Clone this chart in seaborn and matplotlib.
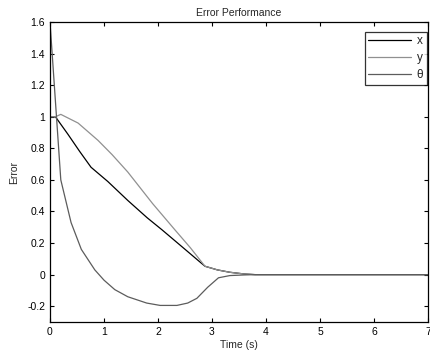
import numpy as np
import pandas as pd
import matplotlib
matplotlib.use("Agg")
import matplotlib.pyplot as plt
import seaborn as sns

t_x = [0.0, 0.1, 0.33, 0.55, 0.76, 1.07, 1.44, 1.8, 2.07, 2.45, 2.87, 3.1, 3.33, 3.6, 3.8, 5.0, 6.0, 7.0]
e_x = [1.0, 1.0, 0.89, 0.78, 0.68, 0.59, 0.47, 0.36, 0.285, 0.175, 0.053, 0.03, 0.015, 0.004, 0.0, 0.0, 0.0, 0.0]

t_y = [0.0, 0.1, 0.2, 0.52, 0.89, 1.15, 1.44, 1.9, 2.31, 2.6, 2.87, 3.1, 3.33, 3.6, 3.8, 5.0, 6.0, 7.0]
e_y = [1.0, 1.0, 1.015, 0.96, 0.85, 0.76, 0.65, 0.45, 0.285, 0.17, 0.053, 0.03, 0.015, 0.004, 0.0, 0.0, 0.0, 0.0]

t_th = [0.0, 0.2, 0.39, 0.58, 0.83, 1.0, 1.2, 1.44, 1.79, 2.04, 2.35, 2.55, 2.72, 2.92, 3.12, 3.33, 3.6, 3.8, 5.0, 6.0, 7.0]
e_th = [1.6, 0.6, 0.33, 0.16, 0.03, -0.035, -0.095, -0.14, -0.18, -0.195, -0.195, -0.18, -0.15, -0.08, -0.02, -0.006, -0.002, 0.0, 0.0, 0.0, 0.0]

labels = ["x", "y", "\u03b8"]
colors = ["#000000", "#909090", "#5c5c5c"]

df = pd.concat([
    pd.DataFrame({"t": t_x, "e": e_x, "s": labels[0]}),
    pd.DataFrame({"t": t_y, "e": e_y, "s": labels[1]}),
    pd.DataFrame({"t": t_th, "e": e_th, "s": labels[2]}),
])

sns.set_style("white")
plt.rcParams["font.family"] = ["Liberation Sans", "DejaVu Sans"]

fig = plt.figure(figsize=(4.31, 3.58), dpi=100)
ax = fig.add_axes([50/431, 1 - 322/358, 378/431, 300/358])

sns.lineplot(data=df, x="t", y="e", hue="s", palette=dict(zip(labels, colors)),
             ax=ax, linewidth=0.9, sort=False, estimator=None)

ax.set_xlim(0, 7)
ax.set_ylim(-0.3, 1.6)
ax.set_xticks(range(0, 8))
ax.set_yticks([-0.2, 0, 0.2, 0.4, 0.6, 0.8, 1, 1.2, 1.4, 1.6])
ax.set_yticklabels(["-0.2", "0", "0.2", "0.4", "0.6", "0.8", "1", "1.2", "1.4", "1.6"])
ax.tick_params(direction="in", length=3, width=0.8, labelsize=7.5, top=True, right=True,
               bottom=True, left=True, colors="black")
for sp in ax.spines.values():
    sp.set_color("black")
    sp.set_linewidth(0.9)

ax.set_title("Error Performance", fontsize=7.5, pad=4)
ax.set_xlabel("Time (s)", fontsize=7.5, labelpad=2)
ax.set_ylabel("Error", fontsize=7.5, labelpad=6)

handles, labs = ax.get_legend_handles_labels()
leg = ax.legend(handles, labs, loc="upper right", bbox_to_anchor=(0.997, 0.968),
                borderaxespad=0, frameon=True, fancybox=False, fontsize=8.5,
                handlelength=3.6, borderpad=0.3, labelspacing=0.42, handletextpad=0.5,
                title=None)
leg.get_frame().set_edgecolor("black")
leg.get_frame().set_linewidth(0.9)

fig.savefig("out.png", dpi=100)
